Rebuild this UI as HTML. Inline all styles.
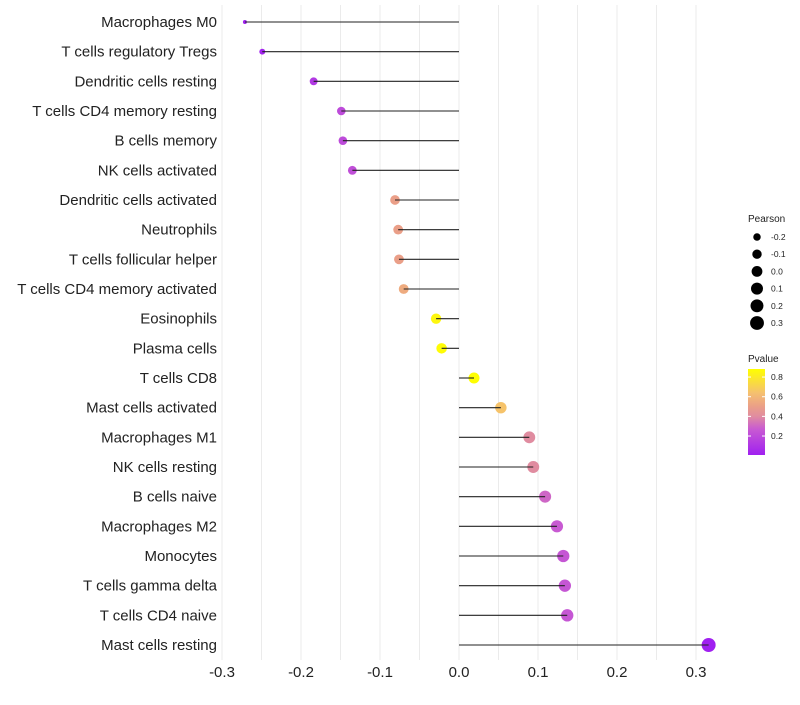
<!DOCTYPE html>
<html><head><meta charset="utf-8"><style>
body{margin:0;background:#fff;font-family:"Liberation Sans",sans-serif}
</style></head><body>
<svg id="chart" width="800" height="700" xmlns="http://www.w3.org/2000/svg" font-family="Liberation Sans, sans-serif">
<defs><linearGradient id="pg" x1="0" y1="1" x2="0" y2="0">
<stop offset="0" stop-color="#a020f0"/><stop offset="0.3" stop-color="#c85ad2"/><stop offset="0.45" stop-color="#e08ca0"/><stop offset="0.57" stop-color="#eba087"/><stop offset="0.72" stop-color="#f5c070"/><stop offset="1" stop-color="#ffff00"/></linearGradient></defs>
<g id="grid"></g><g id="points"></g><g id="marks"></g><g id="labels"></g><g id="legend"></g>
</svg>
<script>
const cells=["Macrophages M0","T cells regulatory  Tregs","Dendritic cells resting","T cells CD4 memory resting","B cells memory","NK cells activated","Dendritic cells activated","Neutrophils","T cells follicular helper","T cells CD4 memory activated","Eosinophils","Plasma cells","T cells CD8","Mast cells activated","Macrophages M1","NK cells resting","B cells naive","Macrophages M2","Monocytes","T cells gamma delta","T cells CD4 naive","Mast cells resting"];
const pearson=[-0.271,-0.249,-0.184,-0.149,-0.147,-0.135,-0.081,-0.077,-0.076,-0.070,-0.029,-0.022,0.019,0.053,0.089,0.094,0.109,0.124,0.132,0.134,0.137,0.316];
const pvalue=[0.01,0.02,0.12,0.2,0.2,0.22,0.5,0.5,0.5,0.55,0.85,0.87,0.88,0.65,0.4,0.4,0.3,0.27,0.25,0.25,0.25,0.005];
const xTicks=[-0.3,-0.2,-0.1,0.0,0.1,0.2,0.3];
const sizeTicks=[-0.2,-0.1,0.0,0.1,0.2,0.3];
const colorTicks=[0.2,0.4,0.6,0.8];
const NS="http://www.w3.org/2000/svg";
const x=v=>459+v*790;
const y=i=>22+i*(623/21);
const pmin=-0.271,pmax=0.316;
const r=v=>2+5*Math.sqrt(Math.max(0,(v-pmin)/(pmax-pmin)));
function col(p){const s=[[0,[160,32,240]],[0.3,[200,90,210]],[0.45,[224,140,160]],[0.57,[235,160,135]],[0.72,[245,192,112]],[1,[255,255,0]]];const t=Math.min(1,Math.max(0,(p-0.007)/0.875));for(let k=1;k<s.length;k++){if(t<=s[k][0]){const f=(t-s[k-1][0])/(s[k][0]-s[k-1][0]);const a=s[k-1][1],b=s[k][1];return `rgb(${a.map((c,j)=>Math.round(c+(b[j]-c)*f)).join(',')})`;}}return 'rgb(255,255,0)';}
function mk(tag,at,parent,txt){const e=document.createElementNS(NS,tag);for(const k in at)e.setAttribute(k,at[k]);if(txt!==undefined)e.textContent=txt;document.getElementById(parent).appendChild(e);return e;}
for(let v=-0.3;v<=0.3001;v+=0.05){const g=mk('line',{x1:x(v),x2:x(v),y1:5,y2:660,stroke:'#ebebeb','stroke-width':1},'grid');

}
xTicks.forEach(t=>{const e=mk('text',{x:x(t),y:677,'text-anchor':'middle','font-size':15,fill:'#222'},'labels',t.toFixed(1));

});
cells.forEach((c,i)=>{
const p=mk('circle',{cx:x(pearson[i]),cy:y(i),r:r(pearson[i]),fill:col(pvalue[i])},'points');


const l=mk('line',{x1:x(0),x2:x(pearson[i]),y1:y(i),y2:y(i),stroke:'#222','stroke-width':1.1},'marks');


const t=mk('text',{x:217,y:y(i)+5,'text-anchor':'end','font-size':15,fill:'#222'},'labels',c);


});
let e=mk('text',{x:748,y:222,'font-size':10,fill:'#222'},'legend','Pearson');


sizeTicks.forEach((s,i)=>{const cy=237+i*17.2;
const c=mk('circle',{cx:757,cy:cy,r:r(s),fill:'#000'},'legend');


const t=mk('text',{x:771,y:cy+3,'font-size':8.5,fill:'#222'},'legend',s.toFixed(1));

});
e=mk('text',{x:748,y:362,'font-size':10,fill:'#222'},'legend','Pvalue');


e=mk('rect',{x:748,y:369,width:17,height:86,fill:'url(#pg)'},'legend');


colorTicks.forEach(c=>{const cy=455-(c-0.007)*98.3;
mk('line',{x1:748,x2:751,y1:cy,y2:cy,stroke:'#fff'},'legend');
mk('line',{x1:762,x2:765,y1:cy,y2:cy,stroke:'#fff'},'legend');
const t=mk('text',{x:771,y:cy+3,'font-size':8.5,fill:'#222'},'legend',c.toFixed(1));

});
</script>
</body></html>
